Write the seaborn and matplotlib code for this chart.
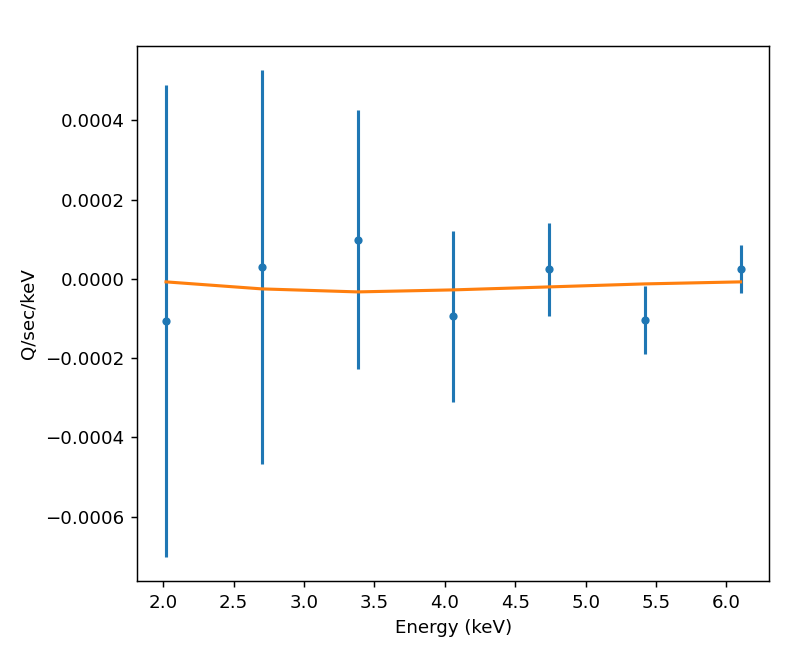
import matplotlib
matplotlib.use("Agg")
import matplotlib.pyplot as plt
import seaborn as sns
import numpy as np
import pandas as pd

energy = [2.02, 2.70, 3.38, 4.06, 4.74, 5.42, 6.10]
q_values = [-0.000106, 0.0000291, 0.0000987, -0.0000949, 0.0000241, -0.000104, 0.0000253]
q_errors = [0.000595, 0.000497, 0.000327, 0.000216, 0.000118, 0.0000861, 0.0000608]
model = [-0.0000076, -0.0000253, -0.0000329, -0.0000278, -0.0000203, -0.0000127, -0.0000076]

df = pd.DataFrame({"energy": energy, "q": q_values, "err": q_errors, "model": model})

plt.rcParams['font.family'] = ['DejaVu Sans']
fig = plt.figure(figsize=(6.0, 5.004), dpi=131.5)
ax = fig.add_axes([0.174, 0.117, 0.801, 0.813])

ax.errorbar(df["energy"], df["q"], yerr=df["err"], fmt='.', color='#1f77b4',
            ecolor='#1f77b4', lw=1.7, markersize=7, capsize=0)
sns.lineplot(data=df, x="energy", y="model", color='#ff7f0e', lw=1.7, ax=ax)

ax.set_xlabel("Energy (keV)")
ax.set_ylabel("Q/sec/keV")
ax.set_yticks([-0.0006, -0.0004, -0.0002, 0.0, 0.0002, 0.0004])
ax.set_yticklabels(["\u22120.0006", "\u22120.0004", "\u22120.0002", "0.0000", "0.0002", "0.0004"])

fig.savefig("out.png", dpi=131.5)
